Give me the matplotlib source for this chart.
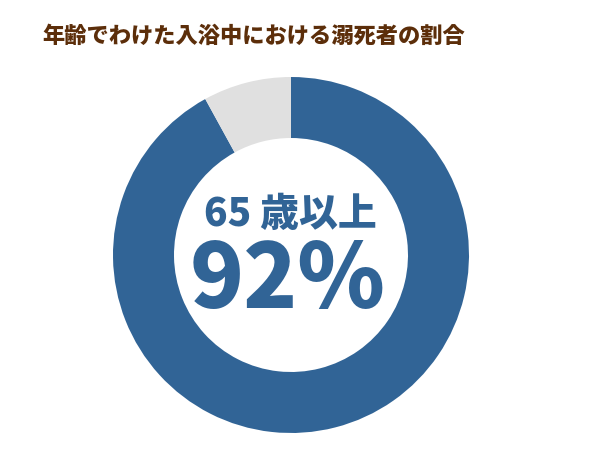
import matplotlib
matplotlib.use("Agg")
import matplotlib.pyplot as plt

plt.rcParams['font.family'] = ['Noto Sans CJK JP', 'DejaVu Sans']

title = "年齢でわけた入浴中における溺死者の割合"
labels = ["65 歳以上", "65 歳未満"]
values = [92, 8]
colors = ["#316496", "#e0e0e0"]
center_label = "65 歳以上"
center_value = "92%"

fig = plt.figure(figsize=(6, 4.5), dpi=100)
ax = fig.add_axes([0, 0, 1, 1])
ax.set_xlim(0, 600)
ax.set_ylim(0, 450)
ax.set_aspect('equal')
ax.axis('off')

ax.pie(values, colors=colors, startangle=90, counterclock=False,
       center=(291, 450 - 255), radius=178,
       wedgeprops=dict(width=61, linewidth=0))
ax.set_xlim(0, 600)
ax.set_ylim(0, 450)

fig.text(254 / 600, 1 - 36 / 450, title, ha='center', va='center',
         fontsize=16, fontweight='heavy', color='#5c2e0a')
ax.text(290, 450 - 214, center_label, ha='center', va='center',
        fontsize=28, fontweight='heavy', color=colors[0])
ax.text(288, 450 - 281, center_value, ha='center', va='center',
        fontsize=64, fontweight='heavy', color=colors[0])

fig.savefig("out.png", dpi=100)
